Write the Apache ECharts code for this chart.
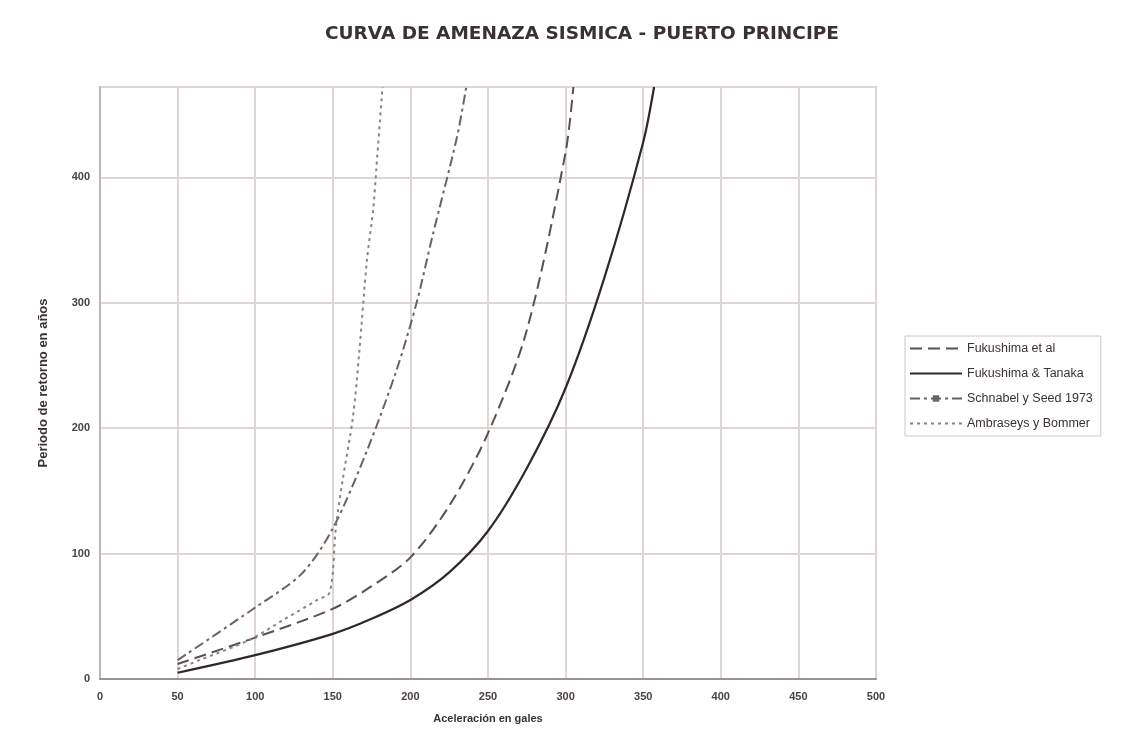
<!DOCTYPE html>
<html>
<head>
<meta charset="utf-8">
<script src="https://cdn.jsdelivr.net/npm/echarts@6/dist/echarts.min.js"></script>
<style>html,body{margin:0;padding:0;background:#fff}#c{width:1142px;height:741px}</style>
</head>
<body>
<div id="c"></div>
<script>
const titleText = 'CURVA DE AMENAZA SISMICA - PUERTO PRINCIPE';
const xName = 'Aceleración en gales';
const yName = 'Periodo de retorno en años';
const seriesNames = ['Fukushima et al', 'Fukushima & Tanaka', 'Schnabel y Seed 1973', 'Ambraseys y Bommer'];

// Fukushima et al (dark dashed)
const fetX = [50, 100, 150, 175, 200, 225, 250, 275, 300, 305];
const fetY = [12, 33, 56, 74, 97, 138, 196, 278, 420, 472];
// Fukushima & Tanaka (solid)
const ftX = [50, 100, 150, 175, 200, 225, 250, 275, 300, 325, 350, 357];
const ftY = [5, 19, 36, 48, 63, 85, 118, 168, 232, 320, 428, 472];
// Schnabel y Seed (dash-dot)
const ssX = [50, 100, 130, 150, 172, 191, 204, 214, 230, 236];
const ssY = [15, 57, 84, 120, 182, 246, 300, 352, 432, 472];
// Ambraseys y Bommer (dotted)
const abX = [50, 64, 96, 118, 140, 148, 152, 156, 163, 167, 172, 176, 178, 182];
const abY = [8, 15, 31, 47, 63, 69, 121, 156, 209, 260, 334, 374, 406, 472];

const xTicks = [0, 50, 100, 150, 200, 250, 300, 350, 400, 450, 500];
const yTicks = [0, 100, 200, 300, 400];

const pairs = (xs, ys) => xs.map((x, i) => [x, ys[i]]);

const chart = echarts.init(document.getElementById('c'), null, {renderer: 'canvas'});
const font = 'Liberation Sans';
const hidden = {color: 'transparent', borderColor: 'transparent', borderWidth: 0};
chart.setOption({
  backgroundColor: '#fff',
  animation: false,
  title: {
    text: titleText, left: 320, top: 20,
    textStyle: {fontFamily: 'DejaVu Sans', fontWeight: 'bold', fontSize: 18.5, color: '#3a3232'}
  },
  grid: {left: 100, right: 266, top: 87, bottom: 62, show: true, borderColor: '#d6cfcb', borderWidth: 2},
  legend: {
    orient: 'vertical', left: 905, top: 336,
    itemWidth: 52, itemHeight: 8, itemGap: 12,
    padding: [6, 8, 6, 4],
    borderColor: '#d0c8c6', borderWidth: 1, backgroundColor: '#fff',
    textStyle: {fontFamily: font, fontSize: 12.5, color: '#3a3232'},
    data: [
      {name: seriesNames[0], itemStyle: hidden},
      {name: seriesNames[1], itemStyle: hidden},
      {name: seriesNames[2]},
      {name: seriesNames[3], itemStyle: hidden}
    ]
  },
  xAxis: {
    type: 'value', min: xTicks[0], max: xTicks[xTicks.length - 1], interval: 50,
    name: xName, nameLocation: 'middle', nameGap: 34,
    nameTextStyle: {fontFamily: font, fontSize: 11, fontWeight: 'bold', color: '#3a3232'},
    axisLine: {lineStyle: {color: '#9b9190', width: 2}},
    axisTick: {show: false},
    axisLabel: {fontFamily: font, fontSize: 11, fontWeight: 'bold', color: '#4a4242', margin: 12},
    splitLine: {lineStyle: {color: '#ddd6d3', width: 2}}
  },
  yAxis: {
    type: 'value', min: 0, max: 472, interval: 100,
    name: yName, nameLocation: 'middle', nameGap: 50,
    nameTextStyle: {fontFamily: font, fontSize: 13, fontWeight: 'bold', color: '#3a3232'},
    axisLine: {show: true, lineStyle: {color: '#bdb5b3', width: 2}},
    axisTick: {show: false},
    axisLabel: {fontFamily: font, fontSize: 11, fontWeight: 'bold', color: '#4a4242', margin: 10,
      showMaxLabel: false},
    splitLine: {lineStyle: {color: '#ddd6d3', width: 2}}
  },
  series: [
    {name: seriesNames[0], type: 'line', smooth: 0.3, showSymbol: false, symbol: 'none',
      data: pairs(fetX, fetY), lineStyle: {color: '#5a5252', width: 2, type: [12, 6]}, itemStyle: {color: '#5a5252'}},
    {name: seriesNames[1], type: 'line', smooth: 0.3, showSymbol: false, symbol: 'none',
      data: pairs(ftX, ftY), lineStyle: {color: '#2e2828', width: 2.2, type: 'solid'}, itemStyle: {color: '#2e2828'}},
    {name: seriesNames[2], type: 'line', smooth: 0.3, showSymbol: false, symbol: 'rect', symbolSize: 6,
      data: pairs(ssX, ssY), lineStyle: {color: '#6a6262', width: 2, type: [10, 4, 3, 4]}, itemStyle: {color: '#6a6262'}},
    {name: seriesNames[3], type: 'line', smooth: 0.3, showSymbol: false, symbol: 'none',
      data: pairs(abX, abY), lineStyle: {color: '#8a8282', width: 2, type: [3, 4]}, itemStyle: {color: '#8a8282'}}
  ]
});
</script>
</body>
</html>
